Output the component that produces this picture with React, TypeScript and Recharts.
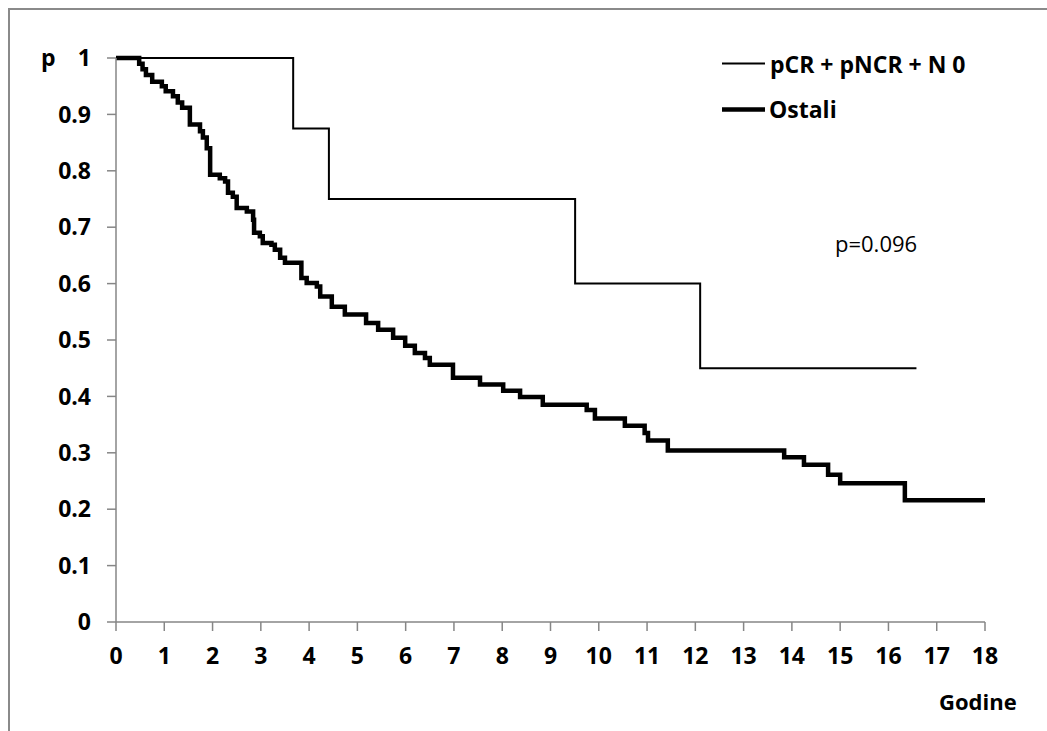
import React from 'react';
import { LineChart, Line, XAxis, YAxis } from 'recharts';

// Kaplan-Meier steps: time in years and survival after each drop
const groupAName = 'pCR + pNCR + N 0';
const groupATimes = [0, 3.67, 4.41, 9.51, 12.1, 16.58];
const groupASurvival = [1, 0.875, 0.75, 0.6, 0.45, 0.45];

const groupBName = 'Ostali';
const groupBTimes = [
  0, 0.48, 0.55, 0.62, 0.75, 0.95, 1.03, 1.18, 1.28, 1.37, 1.53, 1.74, 1.8, 1.88, 1.95,
  2.15, 2.26, 2.32, 2.42, 2.5, 2.71, 2.84, 2.86, 2.98, 3.04, 3.22, 3.29, 3.4, 3.5, 3.84,
  3.95, 4.16, 4.23, 4.47, 4.74, 5.18, 5.43, 5.74, 5.99, 6.19, 6.4, 6.5, 6.98, 7.54, 8.02,
  8.37, 8.84, 9.75, 9.92, 10.54, 10.95, 11.02, 11.43, 13.84, 14.25, 14.75, 15.0, 16.34, 18,
];
const groupBSurvival = [
  1, 0.99, 0.98, 0.97, 0.958, 0.95, 0.941, 0.932, 0.921, 0.912, 0.882, 0.87, 0.859, 0.84, 0.793,
  0.787, 0.781, 0.761, 0.754, 0.734, 0.728, 0.713, 0.69, 0.684, 0.672, 0.669, 0.66, 0.646, 0.637, 0.61,
  0.601, 0.595, 0.577, 0.559, 0.545, 0.53, 0.518, 0.504, 0.49, 0.477, 0.468, 0.456, 0.433, 0.421, 0.41,
  0.399, 0.385, 0.376, 0.361, 0.348, 0.335, 0.322, 0.304, 0.292, 0.279, 0.261, 0.246, 0.216, 0.216,
];

const xTicks = [0, 1, 2, 3, 4, 5, 6, 7, 8, 9, 10, 11, 12, 13, 14, 15, 16, 17, 18];
const yTicks = [0, 0.1, 0.2, 0.3, 0.4, 0.5, 0.6, 0.7, 0.8, 0.9, 1];

const pValueText = 'p=0.096';
const xTitle = 'Godine';
const yTitle = 'p';

const toPoints = (times: number[], surv: number[]) => times.map((t, i) => ({ t, s: surv[i] }));

const groupA = toPoints(groupATimes, groupASurvival);
const groupB = toPoints(groupBTimes, groupBSurvival);

const FONT = '"Open Sans", sans-serif';
const AXIS = '#868686';
const W = 1047;
const H = 731;

const tickStyle = { fill: '#000', fontSize: 23, fontWeight: 700, fontFamily: FONT };

export default function App() {
  return (
    <div style={{ position: 'absolute', left: 0, top: 0, width: W, height: H, background: '#fff' }}>
      <LineChart width={W} height={H} margin={{ top: 58, right: 62, left: 56, bottom: 69 }}>
        <XAxis
          dataKey="t"
          type="number"
          domain={[0, 18]}
          ticks={xTicks}
          interval={0}
          allowDataOverflow
          height={40}
          stroke={AXIS}
          strokeWidth={1.5}
          tickSize={9}
          tickMargin={17}
          tick={tickStyle}
        />
        <YAxis
          dataKey="s"
          type="number"
          domain={[0, 1]}
          ticks={yTicks}
          interval={0}
          width={60}
          stroke={AXIS}
          strokeWidth={1.5}
          tickSize={9}
          tickMargin={16}
          tick={tickStyle}
          tickFormatter={(v: number) => String(Math.round(v * 10) / 10)}
        />
        <Line
          data={groupB}
          dataKey="s"
          name={groupBName}
          type="stepAfter"
          stroke="#000"
          strokeWidth={4.5}
          dot={false}
          activeDot={false}
          isAnimationActive={false}
        />
        <Line
          data={groupA}
          dataKey="s"
          name={groupAName}
          type="stepAfter"
          stroke="#000"
          strokeWidth={2}
          dot={false}
          activeDot={false}
          isAnimationActive={false}
        />
      </LineChart>

      {/* chart frame, legend and free text */}
      <svg
        width={W}
        height={H}
        style={{ position: 'absolute', left: 0, top: 0, pointerEvents: 'none' }}
        fontFamily={FONT}
      >
        <rect x={9} y={9} width={W + 20} height={H + 20} fill="none" stroke="#8a8a8a" strokeWidth={2} />

        <text x={41} y={66} fontSize={23} fontWeight={700}>{yTitle}</text>
        <text x={939} y={710} fontSize={22} fontWeight={700}>{xTitle}</text>
        <text x={835} y={252} fontSize={22}>{pValueText}</text>

        <line x1={722} y1={63.5} x2={765} y2={63.5} stroke="#000" strokeWidth={2} />
        <text x={770} y={73} fontSize={23} fontWeight={700}>{groupAName}</text>
        <line x1={722} y1={109.5} x2={765} y2={109.5} stroke="#000" strokeWidth={4.5} />
        <text x={769} y={118} fontSize={23} fontWeight={700}>{groupBName}</text>
      </svg>
    </div>
  );
}
